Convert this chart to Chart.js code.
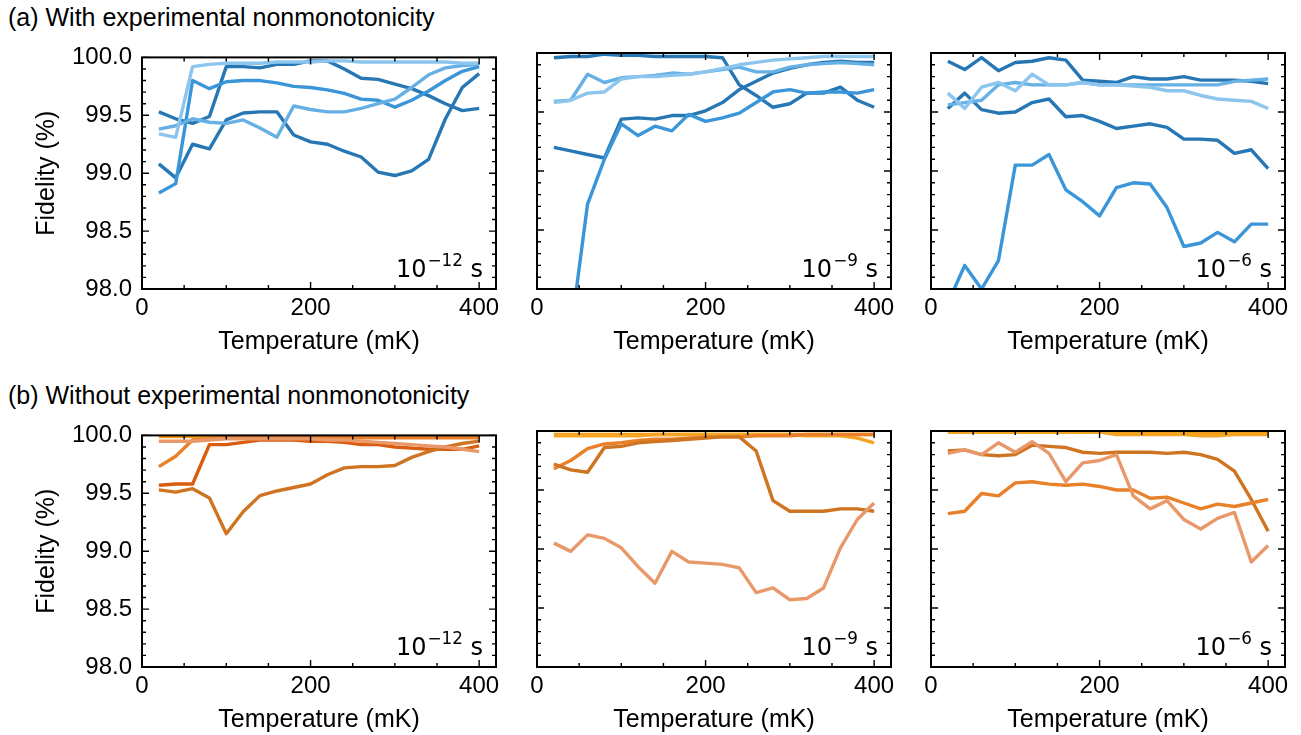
<!DOCTYPE html>
<html>
<head>
<meta charset="utf-8">
<script src="https://cdn.jsdelivr.net/npm/chart.js@4.4.1/dist/chart.umd.min.js"></script>
<style>
  body { margin: 0; background: #fff; width: 1301px; height: 735px; position: relative; overflow: hidden; }
  .head { position: absolute; left: 8px; font: 25px/25px "Liberation Sans", Arial, sans-serif; color: #000; white-space: nowrap; }
  canvas { position: absolute; }
</style>
</head>
<body>
<div class="head" style="top:5px">(a) With experimental nonmonotonicity</div>
<div class="head" style="top:383px">(b) Without experimental nonmonotonicity</div>
<canvas id="a12"></canvas>
<canvas id="a9"></canvas>
<canvas id="a6"></canvas>
<canvas id="b12"></canvas>
<canvas id="b9"></canvas>
<canvas id="b6"></canvas>
<script>
// temperatures (mK)
const temps = [20, 40, 60, 80, 100, 120, 140, 160, 180, 200, 220, 240, 260, 280, 300, 320, 340, 360, 380, 400];

// axis ticks
const xMajor = [0, 200, 400];
const xMinor = [50, 100, 150, 250, 300, 350];
const yMajor = [98, 98.5, 99, 99.5, 100];
const yMinor = [98.1, 98.2, 98.3, 98.4, 98.6, 98.7, 98.8, 98.9, 99.1, 99.2, 99.3, 99.4, 99.6, 99.7, 99.8, 99.9];

// (a) with experimental nonmonotonicity, 1e-12 s
const a12Dark1 = [99.53, 99.47, 99.43, 99.49, 99.92, 99.92, 99.91, 99.94, 99.94, 99.97, 99.97, 99.90, 99.82, 99.81, 99.77, 99.73, 99.67, 99.60, 99.54, 99.56];
const a12Dark2 = [99.08, 98.96, 99.25, 99.21, 99.46, 99.52, 99.53, 99.53, 99.33, 99.27, 99.25, 99.19, 99.14, 99.01, 98.98, 99.02, 99.12, 99.47, 99.74, 99.86];
const a12Mid = [98.83, 98.91, 99.80, 99.73, 99.79, 99.80, 99.80, 99.78, 99.75, 99.74, 99.72, 99.69, 99.64, 99.63, 99.57, 99.63, 99.71, 99.80, 99.88, 99.92];
const a12Light = [99.38, 99.41, 99.47, 99.44, 99.43, 99.46, 99.39, 99.31, 99.58, 99.55, 99.53, 99.53, 99.56, 99.60, 99.64, 99.74, 99.85, 99.91, 99.93, 99.94];
const a12Pale = [99.34, 99.31, 99.92, 99.94, 99.95, 99.95, 99.95, 99.96, 99.96, 99.96, 99.97, 99.97, 99.96, 99.96, 99.96, 99.96, 99.96, 99.96, 99.95, 99.95];

// (a) 1e-9 s
const a9Dark1 = [99.96, 99.97, 99.97, 99.99, 99.98, 99.98, 99.97, 99.97, 99.97, 99.97, 99.96, 99.73, 99.64, 99.54, 99.57, 99.66, 99.66, 99.71, 99.60, 99.54];
const a9Dark2 = [99.20, 99.17, 99.14, 99.11, 99.44, 99.45, 99.44, 99.47, 99.47, 99.51, 99.58, 99.69, 99.76, 99.83, 99.87, 99.90, 99.92, 99.93, 99.92, 99.92];
const a9Mid = [96.80, 97.63, 98.72, 99.10, 99.40, 99.30, 99.38, 99.34, 99.48, 99.42, 99.45, 99.49, 99.58, 99.67, 99.69, 99.66, 99.67, 99.67, 99.66, 99.69];
const a9Light = [99.59, 99.60, 99.82, 99.75, 99.79, 99.80, 99.81, 99.83, 99.82, 99.84, 99.86, 99.88, 99.84, 99.84, 99.88, 99.90, 99.91, 99.92, 99.91, 99.90];
const a9Pale = [99.58, 99.60, 99.66, 99.67, 99.78, 99.80, 99.80, 99.81, 99.82, 99.84, 99.87, 99.90, 99.92, 99.94, 99.95, 99.96, 99.97, 99.97, 99.97, 99.97];

// (a) 1e-6 s
const a6Dark1 = [99.93, 99.86, 99.96, 99.85, 99.92, 99.93, 99.96, 99.94, 99.77, 99.76, 99.75, 99.80, 99.78, 99.78, 99.80, 99.77, 99.77, 99.77, 99.76, 99.74];
const a6Dark2 = [99.53, 99.66, 99.52, 99.49, 99.50, 99.58, 99.61, 99.46, 99.47, 99.42, 99.36, 99.38, 99.40, 99.37, 99.27, 99.27, 99.26, 99.15, 99.18, 99.02];
const a6Mid = [97.88, 98.20, 98.00, 98.24, 99.05, 99.05, 99.14, 98.84, 98.74, 98.62, 98.86, 98.90, 98.89, 98.69, 98.36, 98.39, 98.48, 98.40, 98.55, 98.55];
const a6Light = [99.56, 99.58, 99.60, 99.73, 99.75, 99.73, 99.73, 99.73, 99.75, 99.73, 99.73, 99.73, 99.73, 99.73, 99.73, 99.73, 99.73, 99.76, 99.77, 99.78];
const a6Pale = [99.66, 99.53, 99.71, 99.75, 99.68, 99.82, 99.73, 99.73, 99.75, 99.73, 99.73, 99.72, 99.71, 99.68, 99.68, 99.64, 99.61, 99.60, 99.59, 99.53];

// (b) without experimental nonmonotonicity, 1e-12 s
const b12Bright = [99.99, 99.99, 99.99, 99.99, 99.99, 99.99, 99.99, 99.99, 99.99, 99.99, 99.99, 99.99, 99.99, 99.99, 99.99, 99.99, 99.99, 99.99, 99.99, 99.99];
const b12Salmon = [99.95, 99.95, 99.95, 99.96, 99.97, 99.97, 99.97, 99.97, 99.97, 99.97, 99.96, 99.96, 99.95, 99.94, 99.93, 99.92, 99.91, 99.90, 99.88, 99.86];
const b12Orange = [99.73, 99.82, 99.96, 99.97, 99.98, 99.98, 99.98, 99.98, 99.98, 99.98, 99.98, 99.98, 99.98, 99.98, 99.98, 99.98, 99.98, 99.98, 99.98, 99.98];
const b12Dark = [99.57, 99.58, 99.58, 99.92, 99.92, 99.94, 99.96, 99.96, 99.96, 99.95, 99.95, 99.94, 99.92, 99.92, 99.90, 99.89, 99.88, 99.88, 99.88, 99.91];
const b12Brown = [99.53, 99.51, 99.54, 99.46, 99.15, 99.34, 99.48, 99.52, 99.55, 99.58, 99.66, 99.72, 99.73, 99.73, 99.74, 99.81, 99.86, 99.90, 99.93, 99.95];

// (b) 1e-9 s
const b9Bright = [99.97, 99.97, 99.97, 99.97, 99.97, 99.97, 99.97, 99.97, 99.97, 99.97, 99.97, 99.97, 99.97, 99.97, 99.97, 99.97, 99.97, 99.97, 99.97, 99.97];
const b9Amber = [99.96, 99.96, 99.96, 99.96, 99.96, 99.96, 99.97, 99.97, 99.97, 99.97, 99.97, 99.97, 99.97, 99.97, 99.97, 99.96, 99.96, 99.96, 99.94, 99.90];
const b9Orange = [99.68, 99.75, 99.85, 99.89, 99.90, 99.92, 99.93, 99.93, 99.94, 99.95, 99.95, 99.95, 99.96, 99.96, 99.96, 99.97, 99.97, 99.97, 99.97, 99.97];
const b9Brown = [99.72, 99.67, 99.65, 99.86, 99.87, 99.90, 99.91, 99.92, 99.93, 99.94, 99.95, 99.95, 99.83, 99.41, 99.32, 99.32, 99.32, 99.34, 99.34, 99.32];
const b9Salmon = [99.05, 98.98, 99.12, 99.09, 99.01, 98.85, 98.71, 98.98, 98.89, 98.88, 98.87, 98.84, 98.63, 98.67, 98.57, 98.58, 98.67, 99.01, 99.25, 99.39];

// (b) 1e-6 s
const b6Bright = [99.99, 99.99, 99.99, 99.99, 99.99, 99.99, 99.99, 99.99, 99.99, 99.99, 99.99, 99.99, 99.99, 99.99, 99.99, 99.99, 99.99, 99.99, 99.99, 99.99];
const b6Amber = [99.99, 99.99, 99.99, 99.99, 99.99, 99.99, 99.99, 99.99, 99.99, 99.99, 99.97, 99.97, 99.97, 99.97, 99.97, 99.96, 99.96, 99.97, 99.97, 99.97];
const b6Brown = [99.83, 99.84, 99.80, 99.79, 99.80, 99.88, 99.87, 99.86, 99.82, 99.81, 99.82, 99.82, 99.82, 99.81, 99.82, 99.80, 99.76, 99.66, 99.42, 99.15];
const b6Salmon = [99.81, 99.84, 99.80, 99.90, 99.82, 99.91, 99.81, 99.57, 99.73, 99.75, 99.80, 99.45, 99.34, 99.41, 99.25, 99.17, 99.26, 99.31, 98.89, 99.03];
const b6Orange = [99.30, 99.32, 99.47, 99.45, 99.56, 99.57, 99.55, 99.54, 99.55, 99.53, 99.50, 99.50, 99.43, 99.44, 99.39, 99.34, 99.38, 99.36, 99.39, 99.42];

const blueDark = '#2777b4', blueMid = '#3a96d8', blueLight = '#66b0e5', bluePale = '#8cc5ed';
const orDark = '#d95d0c', orBrown = '#cf7421', orMid = '#e9812a', orSalmon = '#e9986a', orBright = '#f39c16', orAmber = '#f5a524';

const panels = [
  { id: 'a12', col: 0, row: 0, exp: '\u221212', series: [[a12Pale, bluePale], [a12Light, blueLight], [a12Mid, blueMid], [a12Dark1, blueDark], [a12Dark2, blueDark]] },
  { id: 'a9', col: 1, row: 0, exp: '\u22129', series: [[a9Pale, bluePale], [a9Light, blueLight], [a9Mid, blueMid], [a9Dark1, blueDark], [a9Dark2, blueDark]] },
  { id: 'a6', col: 2, row: 0, exp: '\u22126', series: [[a6Pale, bluePale], [a6Light, blueLight], [a6Mid, blueMid], [a6Dark1, blueDark], [a6Dark2, blueDark]] },
  { id: 'b12', col: 0, row: 1, exp: '\u221212', series: [[b12Salmon, orSalmon], [b12Orange, orMid], [b12Brown, orBrown], [b12Dark, orDark], [b12Bright, orBright]] },
  { id: 'b9', col: 1, row: 1, exp: '\u22129', series: [[b9Salmon, orSalmon], [b9Brown, orBrown], [b9Orange, orMid], [b9Amber, orAmber], [b9Bright, orBright]] },
  { id: 'b6', col: 2, row: 1, exp: '\u22126', series: [[b6Salmon, orSalmon], [b6Orange, orMid], [b6Brown, orBrown], [b6Amber, orAmber], [b6Bright, orBright]] }
];

const colLeft = [142, 537, 931];
const rowTop = [53, 431];
const plotW = 354, plotH = 236, padTop = 20, padRight = 20, xAxisH = 68;

Chart.defaults.font.family = '"Liberation Sans", Arial, sans-serif';
Chart.defaults.color = '#000';

// inward ticks on all four sides, black frame and the time label
const panelFrame = {
  id: 'panelFrame',
  afterDraw(chart, args, opts) {
    const { ctx, chartArea: a } = chart;
    const x = chart.scales.x, y = chart.scales.y;
    ctx.save();
    ctx.strokeStyle = '#000';
    ctx.lineWidth = 1.4;
    ctx.beginPath();
    const xt = (vals, len) => vals.forEach(v => {
      const px = x.getPixelForValue(v);
      ctx.moveTo(px, a.bottom); ctx.lineTo(px, a.bottom - len);
      ctx.moveTo(px, a.top); ctx.lineTo(px, a.top + len);
    });
    const yt = (vals, len) => vals.forEach(v => {
      const py = y.getPixelForValue(v);
      ctx.moveTo(a.left, py); ctx.lineTo(a.left + len, py);
      ctx.moveTo(a.right, py); ctx.lineTo(a.right - len, py);
    });
    xt(xMajor, 7); xt(xMinor, 4);
    yt(yMajor, 7); yt(yMinor, 4);
    ctx.stroke();
    ctx.lineWidth = 2;
    ctx.strokeRect(a.left, a.top, a.width, a.height);

    const base = a.bottom - 12.5, right = a.right - 13;
    const big = '24px "DejaVu Sans"', small = '16.8px "DejaVu Sans"';
    ctx.fillStyle = '#000';
    ctx.textBaseline = 'alphabetic';
    ctx.textAlign = 'left';
    ctx.font = big;
    const wS = ctx.measureText('s').width, wSp = ctx.measureText(' ').width, w10 = ctx.measureText('10').width;
    ctx.font = small;
    const wSup = ctx.measureText(opts.exp).width;
    const x0 = right - wS - wSp - wSup - w10 - 1;
    ctx.font = big;
    ctx.fillText('10', x0, base);
    ctx.fillText('s', right - wS, base);
    ctx.font = small;
    ctx.fillText(opts.exp, x0 + w10 + 1, base - 10.5);
    ctx.restore();
  }
};

panels.forEach(p => {
  const yW = p.col === 0 ? 142 : 20;
  const cv = document.getElementById(p.id);
  cv.width = yW + plotW + padRight;
  cv.height = padTop + plotH + xAxisH;
  cv.style.left = (colLeft[p.col] - yW) + 'px';
  cv.style.top = (rowTop[p.row] - padTop) + 'px';

  new Chart(cv, {
    type: 'line',
    data: {
      datasets: p.series.map(([vals, color]) => ({
        data: temps.map((t, i) => ({ x: t, y: vals[i] })),
        borderColor: color,
        borderWidth: 3.4,
        pointRadius: 0,
        tension: 0,
        borderJoinStyle: 'round',
        fill: false
      }))
    },
    options: {
      responsive: false,
      animation: false,
      events: [],
      layout: { padding: { top: padTop, right: padRight, left: 0, bottom: 0 } },
      plugins: {
        legend: { display: false },
        tooltip: { enabled: false },
        panelFrame: { exp: p.exp }
      },
      scales: {
        x: {
          type: 'linear', min: 0, max: 420,
          grid: { display: false, drawTicks: false },
          border: { display: false },
          afterBuildTicks: s => { s.ticks = xMajor.map(v => ({ value: v })); },
          afterFit: s => { s.height = xAxisH; },
          ticks: { padding: 5, maxRotation: 0, autoSkip: false, font: { size: 24 }, callback: v => String(v) },
          title: { display: true, text: 'Temperature (mK)', font: { size: 25 }, padding: 0 }
        },
        y: {
          type: 'linear', min: 98, max: 100,
          grid: { display: false, drawTicks: false },
          border: { display: false },
          afterBuildTicks: s => { s.ticks = yMajor.map(v => ({ value: v })); },
          afterFit: s => { s.width = yW; },
          ticks: { display: p.col === 0, padding: 10, font: { size: 24 }, callback: v => v.toFixed(1) },
          title: { display: p.col === 0, text: 'Fidelity (%)', font: { size: 25 }, padding: { top: 32.5, bottom: 0 } }
        }
      }
    },
    plugins: [panelFrame]
  });
});
</script>
</body>
</html>
